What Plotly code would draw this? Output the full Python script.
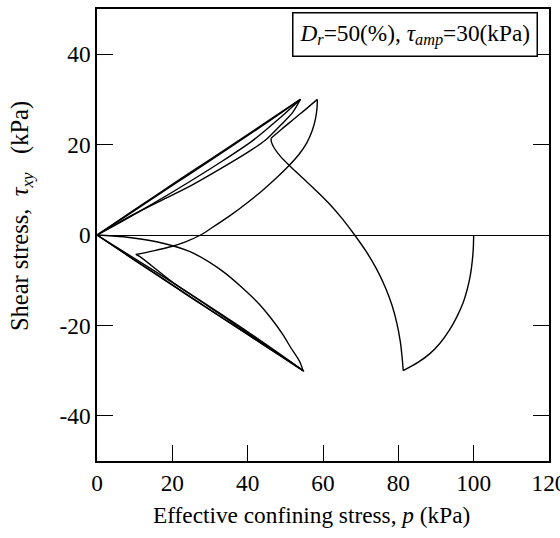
import plotly.graph_objects as go

# Effective stress path of a cyclic simple-shear test (p in kPa, tau_xy in kPa)

# first loading from the initial state
p_first_down = [100.0, 99.9, 99.6, 99.1, 98.3, 97.2, 95.6, 93.6, 91.0, 88.3, 85.2, 81.3]
tau_first_down = [0.0, -3.0, -6.0, -9.0, -12.0, -15.0, -18.0, -21.0, -24.0, -26.3, -28.2, -30.0]

# reversal up to phase transformation
p_first_up = [81.3, 81.0, 80.5, 79.6, 78.3, 76.5, 74.2, 71.5, 68.4, 65.2, 61.8,
              58.2, 54.6, 51.3, 48.7, 47.0, 46.3, 46.2]
tau_first_up = [-30.0, -27.0, -23.5, -19.5, -15.5, -11.5, -7.5, -3.7, 0.0, 3.5, 6.8,
                9.8, 12.6, 15.2, 17.4, 19.3, 20.6, 21.4]

# dilation to the first positive peak
p_first_peak = [46.2, 49.0, 52.2, 55.4, 58.5]
tau_first_peak = [21.4, 23.4, 25.6, 27.8, 30.0]

# unloading from the first positive peak
p_second_down = [58.5, 58.4, 58.0, 57.1, 55.7, 53.6, 50.8, 47.6, 44.0, 40.0, 35.5,
                 30.5, 27.5, 23.5, 19.5, 15.0, 10.3]
tau_second_down = [30.0, 28.0, 25.7, 23.0, 20.4, 17.8, 15.2, 12.6, 9.9, 7.2, 4.4,
                   1.6, 0.0, -1.5, -2.6, -3.5, -4.3]

# dilation to the first negative peak
p_second_neg = [10.3, 11.4, 20.0, 30.0, 40.0, 50.0, 54.7]
tau_second_neg = [-4.3, -4.8, -10.4, -16.0, -21.7, -27.3, -30.0]

# cyclic mobility loops
p_loop_1 = [54.7, 53.8, 51.5, 49.4, 46.0, 42.4, 33.5, 24.7, 15.8, 7.0, 0.0]
tau_loop_1 = [-30.0, -28.0, -25.0, -22.1, -18.2, -14.7, -8.1, -3.7, -1.5, -0.4, 0.0]

p_loop_2 = [0.0, 8.0, 16.0, 24.7, 33.5, 40.6, 45.0, 49.0, 52.0, 54.0]
tau_loop_2 = [0.0, 3.8, 7.2, 10.8, 15.0, 18.6, 21.2, 24.5, 27.2, 30.0]

p_loop_3 = [54.0, 48.0, 41.5, 33.0, 24.0, 15.0, 7.0, 0.0]
tau_loop_3 = [30.0, 25.5, 21.0, 16.2, 11.5, 7.0, 3.2, 0.0]

p_loop_4 = [0.0, 10.0, 20.0, 30.0, 40.0, 50.0, 54.7]
tau_loop_4 = [0.0, -5.6, -11.1, -16.6, -22.0, -27.4, -30.0]

p_loop_5 = [54.7, 48.0, 40.0, 30.0, 20.0, 10.0, 0.0]
tau_loop_5 = [-30.0, -26.0, -21.4, -15.9, -10.5, -5.2, 0.0]

p_loop_6 = [0.0, 10.0, 20.0, 30.0, 40.0, 50.0, 54.0]
tau_loop_6 = [0.0, 5.6, 11.2, 16.7, 22.2, 27.8, 30.0]

p_loop_7 = [54.0, 45.0, 35.0, 25.0, 15.0, 5.0, 0.0]
tau_loop_7 = [30.0, 24.8, 19.2, 13.7, 8.2, 2.7, 0.0]

p_loop_8 = [0.0, 10.0, 25.0, 40.0, 55.0]
tau_loop_8 = [0.0, -5.5, -13.8, -22.0, -30.2]

segments = [
    (p_first_down, tau_first_down),
    (p_first_up, tau_first_up),
    (p_first_peak, tau_first_peak),
    (p_second_down, tau_second_down),
    (p_second_neg, tau_second_neg),
    (p_loop_1, tau_loop_1),
    (p_loop_2, tau_loop_2),
    (p_loop_3, tau_loop_3),
    (p_loop_4, tau_loop_4),
    (p_loop_5, tau_loop_5),
    (p_loop_6, tau_loop_6),
    (p_loop_7, tau_loop_7),
    (p_loop_8, tau_loop_8),
]

x_ticks = [0, 20, 40, 60, 80, 100, 120]
x_tick_labels = ["0", "20", "40", "60", "80", "100", "120"]
y_ticks = [-40, -20, 0, 20, 40]
y_tick_labels = ["-40", "-20", "0", "20", "40"]

SERIF = "Liberation Serif, Times New Roman, serif"
FS = 23.3

fig = go.Figure()
for p_vals, tau_vals in segments:
    fig.add_trace(go.Scatter(
        x=p_vals, y=tau_vals, mode="lines",
        line=dict(color="black", width=1.4, shape="spline", smoothing=0.8),
        showlegend=False, hoverinfo="skip",
    ))

axis_common = dict(
    showgrid=False, showline=True, linecolor="black", linewidth=1.5,
    ticks="inside", ticklen=16, tickwidth=1.3, tickcolor="black",
    tickfont=dict(family=SERIF, size=FS, color="black"),
    ticklabeloverflow="allow", automargin=False,
)

fig.update_xaxes(range=[0, 120], tickvals=x_ticks, ticktext=x_tick_labels,
                 mirror=True, zeroline=False, **axis_common)
fig.update_yaxes(range=[-50, 50], tickvals=y_ticks, ticktext=y_tick_labels,
                 mirror="ticks", zeroline=True, zerolinecolor="black",
                 zerolinewidth=1.4, **axis_common)

fig.add_annotation(
    text="Effective confining stress, <i>p</i> (kPa)",
    xref="paper", yref="paper", x=0.475, y=-0.12,
    xanchor="center", yanchor="middle", showarrow=False,
    font=dict(family=SERIF, size=FS, color="black"),
)
fig.add_annotation(
    text="Shear stress,&nbsp; <i>τ</i><sub><i>xy</i></sub>&nbsp;&nbsp; (kPa)",
    xref="paper", yref="paper", x=-0.168, y=0.542, textangle=-90,
    xanchor="center", yanchor="middle", showarrow=False,
    font=dict(family=SERIF, size=24.5, color="black"),
)
fig.add_annotation(
    text="<i>D</i><sub><i>r</i></sub>=50(%), <i>τ</i><sub><i>amp</i></sub>=30(kPa)",
    xref="paper", yref="paper", x=0.9757, y=0.9934,
    xanchor="right", yanchor="top", showarrow=False,
    bgcolor="white", bordercolor="black", borderwidth=1.5, borderpad=6,
    font=dict(family=SERIF, size=FS, color="black"),
)

fig.update_layout(
    width=560, height=538,
    margin=dict(l=97, r=11, t=9, b=77, autoexpand=False),
    paper_bgcolor="white", plot_bgcolor="white",
)

fig.write_html("out.html")
